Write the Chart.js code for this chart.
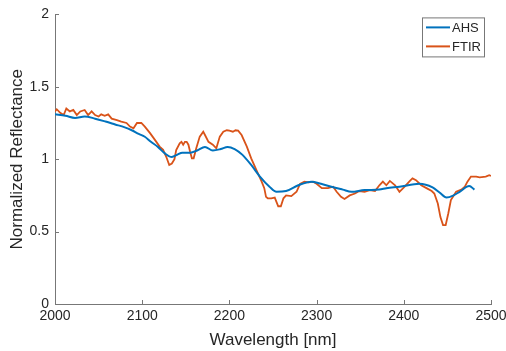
<!DOCTYPE html>
<html>
<head>
<meta charset="utf-8">
<script src="https://cdn.jsdelivr.net/npm/chart.js@4"></script>
<style>
  html, body { margin: 0; padding: 0; background: #fff; }
  #wrap { width: 506px; height: 351px; }
</style>
</head>
<body>
<div id="wrap"><canvas id="chart" width="506" height="351"></canvas></div>
<script>
// --- dados ---
const seriesNames = ['AHS', 'FTIR'];
const seriesColors = ['#0072BD', '#D95319'];

const ahsWavelength = [2000, 2012, 2023, 2034, 2046, 2058, 2069, 2080, 2088, 2096, 2103, 2110, 2118, 2126, 2134, 2140, 2146, 2155, 2163, 2172, 2181, 2190, 2198, 2206, 2215, 2225, 2235, 2246, 2254, 2265, 2279, 2294, 2305, 2317, 2330, 2340, 2355, 2372, 2380, 2395, 2418, 2433, 2441, 2449, 2457, 2464, 2475, 2481];
const ahsValues = [1.31, 1.30, 1.285, 1.295, 1.28, 1.26, 1.24, 1.22, 1.20, 1.175, 1.155, 1.12, 1.085, 1.04, 1.015, 1.03, 1.045, 1.045, 1.06, 1.085, 1.06, 1.07, 1.085, 1.07, 1.03, 0.96, 0.88, 0.81, 0.775, 0.78, 0.82, 0.845, 0.83, 0.81, 0.79, 0.775, 0.787, 0.79, 0.80, 0.81, 0.83, 0.805, 0.77, 0.735, 0.75, 0.775, 0.815, 0.79];

const ftirWavelength = [2000, 2002, 2006, 2010, 2013, 2017, 2021, 2025, 2029, 2034, 2038, 2042, 2046, 2050, 2053, 2057, 2061, 2065, 2071, 2076, 2082, 2086, 2090, 2094, 2099, 2103, 2109, 2115, 2120, 2124, 2128, 2131, 2134, 2137, 2139, 2143, 2145, 2147, 2149, 2151, 2153, 2155, 2157, 2159, 2162, 2166, 2170, 2172, 2176, 2181, 2185, 2189, 2193, 2197, 2200, 2204, 2207, 2210, 2214, 2220, 2225, 2231, 2237, 2240, 2242, 2244, 2248, 2252, 2256, 2259, 2262, 2265, 2271, 2277, 2281, 2286, 2291, 2296, 2300, 2306, 2313, 2319, 2323, 2328, 2332, 2338, 2344, 2349, 2355, 2361, 2367, 2372, 2376, 2380, 2384, 2390, 2395, 2401, 2407, 2410, 2414, 2420, 2426, 2432, 2435, 2439, 2442, 2445, 2448, 2451, 2454, 2460, 2466, 2470, 2473, 2477, 2483, 2487, 2494, 2498, 2500];
const ftirValues = [1.33, 1.345, 1.32, 1.305, 1.35, 1.33, 1.34, 1.305, 1.33, 1.34, 1.305, 1.33, 1.305, 1.295, 1.31, 1.30, 1.31, 1.28, 1.27, 1.26, 1.25, 1.225, 1.213, 1.25, 1.25, 1.225, 1.18, 1.13, 1.087, 1.065, 1.01, 0.96, 0.97, 1.0, 1.063, 1.11, 1.12, 1.10, 1.12, 1.12, 1.10, 1.05, 1.006, 1.006, 1.075, 1.156, 1.19, 1.167, 1.12, 1.10, 1.075, 1.156, 1.19, 1.20, 1.197, 1.19, 1.20, 1.197, 1.167, 1.087, 1.006, 0.925, 0.845, 0.80, 0.74, 0.73, 0.73, 0.735, 0.675, 0.675, 0.73, 0.75, 0.745, 0.775, 0.83, 0.845, 0.84, 0.845, 0.83, 0.80, 0.80, 0.81, 0.775, 0.74, 0.725, 0.75, 0.763, 0.78, 0.775, 0.787, 0.78, 0.82, 0.845, 0.82, 0.85, 0.82, 0.775, 0.81, 0.85, 0.867, 0.855, 0.82, 0.80, 0.78, 0.763, 0.694, 0.60, 0.545, 0.545, 0.625, 0.718, 0.775, 0.79, 0.81, 0.845, 0.88, 0.88, 0.875, 0.88, 0.89, 0.885];

const xTicks = [2000, 2100, 2200, 2300, 2400, 2500];
const yTicks = [0, 0.5, 1, 1.5, 2];

const toPoints = (xs, ys) => xs.map((x, i) => ({ x: x, y: ys[i] }));

// ticks para dentro, como no MATLAB
const innerTicks = {
    id: 'innerTicks',
    afterDraw(chart) {
        const ctx = chart.ctx, a = chart.chartArea;
        const sx = chart.scales.x, sy = chart.scales.y;
        ctx.save();
        ctx.strokeStyle = '#777';
        ctx.lineWidth = 1;
        ctx.beginPath();
        xTicks.forEach(v => {
            const px = Math.round(sx.getPixelForValue(v)) + 0.5;
            ctx.moveTo(px, a.bottom); ctx.lineTo(px, a.bottom - 4);
        });
        yTicks.forEach(v => {
            const py = Math.round(sy.getPixelForValue(v)) + 0.5;
            ctx.moveTo(a.left, py); ctx.lineTo(a.left + 4, py);
        });
        ctx.stroke();
        ctx.restore();
    }
};

// legenda dentro da área do gráfico (canto superior direito)
const boxLegend = {
    id: 'boxLegend',
    afterDraw(chart) {
        const ctx = chart.ctx, a = chart.chartArea;
        const w = 62, h = 39;
        const left = a.right - 7 - w, top = a.top + 3;
        ctx.save();
        ctx.fillStyle = '#fff';
        ctx.fillRect(left, top, w, h);
        ctx.strokeStyle = '#777';
        ctx.lineWidth = 1;
        ctx.strokeRect(left + 0.5, top + 0.5, w, h);
        ctx.font = '13px "Liberation Sans", Arial, sans-serif';
        ctx.textBaseline = 'middle';
        chart.data.datasets.forEach((ds, i) => {
            const y = top + 10 + i * 19;
            ctx.strokeStyle = ds.borderColor;
            ctx.lineWidth = 2;
            ctx.beginPath();
            ctx.moveTo(left + 4, y); ctx.lineTo(left + 28, y);
            ctx.stroke();
            ctx.fillStyle = '#262626';
            ctx.fillText(ds.label, left + 30, y + 1);
        });
        ctx.restore();
    }
};

new Chart(document.getElementById('chart'), {
    type: 'line',
    data: {
        datasets: [
            { label: seriesNames[0], data: toPoints(ahsWavelength, ahsValues), borderColor: seriesColors[0], borderWidth: 2, pointRadius: 0, cubicInterpolationMode: 'monotone', fill: false },
            { label: seriesNames[1], data: toPoints(ftirWavelength, ftirValues), borderColor: seriesColors[1], borderWidth: 1.8, pointRadius: 0, tension: 0, fill: false }
        ]
    },
    options: {
        responsive: false,
        animation: false,
        layout: { padding: { top: 13, right: 15, left: 0, bottom: 0 } },
        plugins: { legend: { display: false }, tooltip: { enabled: false } },
        scales: {
            x: {
                type: 'linear', min: 2000, max: 2500,
                afterBuildTicks: (s) => { s.ticks = xTicks.map(v => ({ value: v })); },
                afterFit: (s) => { s.height = 47; s.paddingRight = 0; s.paddingLeft = 0; },
                grid: { drawOnChartArea: false, drawTicks: false },
                border: { color: '#777', width: 1 },
                ticks: { color: '#262626', font: { family: '"Liberation Sans", Arial', size: 14 }, padding: 4, maxRotation: 0, callback: (v) => String(v) },
                title: { display: true, text: 'Wavelength [nm]', color: '#262626', font: { family: '"Liberation Sans", Arial', size: 17 }, padding: { top: 0, bottom: 0 } }
            },
            y: {
                min: 0, max: 2,
                afterBuildTicks: (s) => { s.ticks = yTicks.map(v => ({ value: v })); },
                afterFit: (s) => { s.width = 55; },
                grid: { drawOnChartArea: false, drawTicks: false },
                border: { color: '#777', width: 1 },
                ticks: { color: '#262626', font: { family: '"Liberation Sans", Arial', size: 14 }, padding: 6, callback: (v) => String(v) },
                title: { display: true, text: 'Normalized Reflectance', color: '#262626', font: { family: '"Liberation Sans", Arial', size: 17 }, padding: { top: 7, bottom: 0 } }
            }
        }
    },
    plugins: [innerTicks, boxLegend]
});
</script>
</body>
</html>
